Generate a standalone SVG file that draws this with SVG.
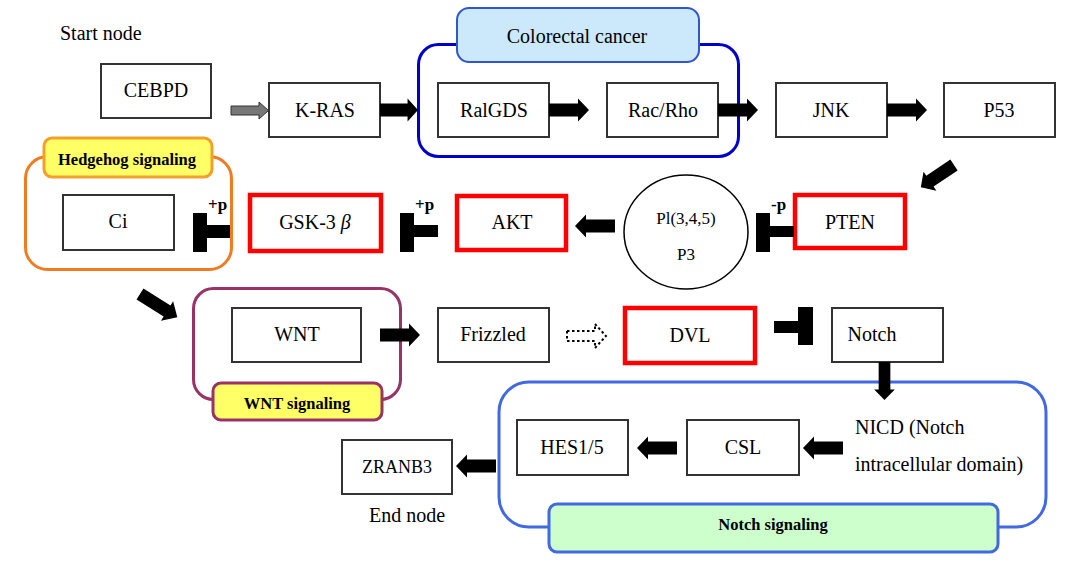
<svg xmlns="http://www.w3.org/2000/svg" width="1083" height="561" viewBox="0 0 1083 561">
<style>
text{font-family:"Liberation Serif","Times New Roman",serif;fill:#000}
.t{font-size:20px;text-anchor:middle}
.b{font-size:16.5px;font-weight:bold;text-anchor:middle}
.p{font-size:17px;font-weight:bold}
.box{fill:#fff;stroke:#333;stroke-width:2}
.red{fill:#fff;stroke:#f00;stroke-width:4.5}
.arr{fill:#000}
.bar{fill:#000}
</style>
<defs>
<path id="ra" d="M0,-6.5 H29 V-11.5 L40,0 L29,11.5 V6.5 H0 Z"/>
</defs>
<rect width="1083" height="561" fill="#fff"/>

<g id="colorectal-group">
<rect x="418.5" y="44.5" width="320" height="112" rx="20" fill="none" stroke="#0000cc" stroke-width="3"/>
<rect x="457" y="8" width="242" height="54" rx="12" fill="#cce9fb" stroke="#3355cc" stroke-width="2"/>
<text class="t" x="577" y="43">Colorectal cancer</text>
</g>
<g id="hedgehog-group">
<rect x="25.5" y="156.5" width="206" height="113" rx="22" fill="none" stroke="#f07c22" stroke-width="3"/>
<rect x="44" y="138" width="168" height="39" rx="8" fill="#ffff66" stroke="#f2a02a" stroke-width="3"/>
<text class="b" x="127" y="165">Hedgehog signaling</text>
</g>
<g id="wnt-group">
<rect x="193.5" y="288.5" width="207" height="111" rx="20" fill="none" stroke="#993366" stroke-width="3"/>
<rect x="213" y="383" width="169" height="37" rx="8" fill="#ffff66" stroke="#993366" stroke-width="3"/>
<text class="b" x="297" y="409">WNT signaling</text>
</g>
<g id="notch-group">
<rect x="499" y="382" width="547" height="145" rx="30" fill="none" stroke="#4169e1" stroke-width="3"/>
<rect x="549" y="504" width="449" height="48" rx="8" fill="#ccffcc" stroke="#4169e1" stroke-width="3"/>
<text class="b" x="773" y="530">Notch signaling</text>
</g>

<g id="start-label"><text x="60" y="40" style="font-size:20px">Start node</text></g>
<g id="end-label"><text x="407" y="522" class="t">End node</text></g>

<g id="cebpd"><rect class="box" x="101" y="64" width="110" height="54"/><text class="t" x="156" y="97">CEBPD</text></g>
<g id="kras"><rect class="box" x="269" y="83" width="111" height="54"/><text class="t" x="325" y="117">K-RAS</text></g>
<g id="ralgds"><rect class="box" x="438" y="83" width="111" height="54"/><text class="t" x="494" y="117">RalGDS</text></g>
<g id="racrho"><rect class="box" x="607" y="83" width="111" height="54"/><text class="t" x="663" y="117">Rac/Rho</text></g>
<g id="jnk"><rect class="box" x="776" y="83" width="111" height="54"/><text class="t" x="831" y="117">JNK</text></g>
<g id="p53"><rect class="box" x="944" y="83" width="111" height="54"/><text class="t" x="999" y="117">P53</text></g>
<g id="pten"><rect class="red" x="795" y="195" width="110" height="53"/><text class="t" x="850" y="229">PTEN</text></g>
<g id="pi3"><ellipse cx="686" cy="232" rx="62" ry="57" fill="#fff" stroke="#000" stroke-width="1.5"/><text x="686" y="224" style="font-size:17px;text-anchor:middle">Pl(3,4,5)</text><text x="686" y="260" style="font-size:17px;text-anchor:middle">P3</text></g>
<g id="akt"><rect class="red" x="457" y="196" width="109" height="54"/><text class="t" x="512" y="229">AKT</text></g>
<g id="gsk3b"><rect class="red" x="250" y="195" width="131" height="56"/><text class="t" x="315" y="229">GSK-3 <tspan font-style="italic">β</tspan></text></g>
<g id="ci"><rect class="box" x="63" y="195" width="111" height="55"/><text class="t" x="118" y="228">Ci</text></g>
<g id="wnt"><rect class="box" x="232" y="308" width="129" height="54"/><text class="t" x="297" y="341">WNT</text></g>
<g id="frizzled"><rect class="box" x="438" y="308" width="111" height="54"/><text class="t" x="493" y="341">Frizzled</text></g>
<g id="dvl"><rect class="red" x="625" y="308" width="130" height="55"/><text class="t" x="690" y="342">DVL</text></g>
<g id="notch"><rect class="box" x="832" y="308" width="111" height="54"/><text class="t" x="872" y="341">Notch</text></g>
<g id="nicd"><text x="855" y="434" style="font-size:20px">NICD (Notch</text><text x="855" y="471" style="font-size:20px">intracellular domain)</text></g>
<g id="csl"><rect class="box" x="687" y="420" width="112" height="55"/><text class="t" x="743" y="454">CSL</text></g>
<g id="hes15"><rect class="box" x="517" y="420" width="111" height="55"/><text class="t" x="572" y="454">HES1/5</text></g>
<g id="zranb3"><rect class="box" x="342" y="440" width="110" height="54"/><text x="397" y="473" style="font-size:18px;text-anchor:middle">ZRANB3</text></g>

<g id="connectors">
<path d="M231,106 H259 V102 L268.5,110.5 L259,119 V115 H231 Z" fill="#777" stroke="#333" stroke-width="1"/>
<use href="#ra" class="arr" transform="translate(380,110) scale(0.95,1)"/>
<use href="#ra" class="arr" transform="translate(549,110)"/>
<use href="#ra" class="arr" transform="translate(718,110)"/>
<use href="#ra" class="arr" transform="translate(887,110)"/>
<use href="#ra" class="arr" transform="translate(954,165) rotate(146)"/>
<use href="#ra" class="arr" transform="translate(140,294) rotate(32) scale(1.1,1)"/>
<use href="#ra" class="arr" transform="translate(615,226) rotate(180)"/>
<use href="#ra" class="arr" transform="translate(380,335)"/>
<path d="M567,331 H595 V324 L606,336 L595,348 V341 H567 Z" fill="#fff" stroke="#000" stroke-width="2" stroke-dasharray="2.5,2.5"/>
<use href="#ra" class="arr" transform="translate(884.5,362) rotate(90) scale(0.95,0.9)"/>
<use href="#ra" class="arr" transform="translate(843,448) rotate(180)"/>
<use href="#ra" class="arr" transform="translate(677,448) rotate(180)"/>
<use href="#ra" class="arr" transform="translate(496,466) rotate(180)"/>
<rect class="bar" x="770" y="226" width="24" height="11"/><rect class="bar" x="756" y="213" width="14" height="39"/>
<rect class="bar" x="413" y="225" width="25" height="12"/><rect class="bar" x="400" y="213" width="14" height="39"/>
<rect class="bar" x="206" y="225" width="24" height="13"/><rect class="bar" x="193" y="213" width="14" height="39"/>
<rect class="bar" x="774" y="321" width="25" height="12"/><rect class="bar" x="798" y="307" width="15" height="38"/>
<text class="p" x="771" y="210">-p</text>
<text class="p" x="415" y="210">+p</text>
<text class="p" x="208" y="210">+p</text>
</g>
</svg>
